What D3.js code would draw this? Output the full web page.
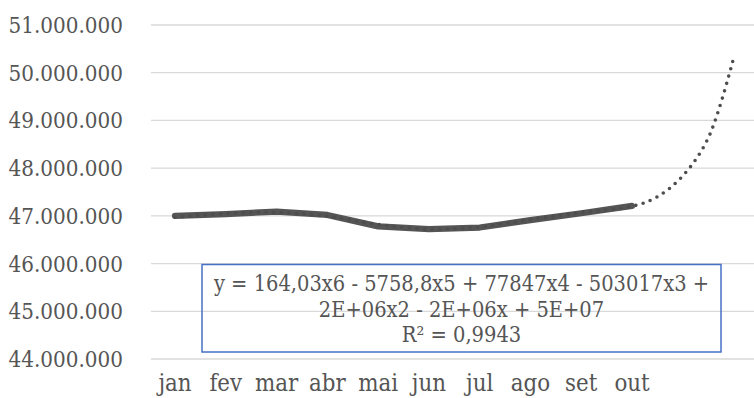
<!DOCTYPE html>
<html>
<head>
<meta charset="utf-8">
<script src="https://cdn.jsdelivr.net/npm/d3@7"></script>
<style>
html,body{margin:0;padding:0;background:#fff;}
svg{display:block;}
text{font-family:"DejaVu Serif","Liberation Serif",serif;fill:#555555;}
</style>
</head>
<body>
<svg id="chart" width="754" height="398"></svg>
<script>
// Data
const categories = ["jan","fev","mar","abr","mai","jun","jul","ago","set","out"];
const values = [47000000, 47035000, 47090000, 47020000, 46780000, 46720000, 46755000, 46910000, 47055000, 47210000];
// Polynomial (order 6) trendline, forecast 2 periods forward
const trendX = [1, 2, 3, 4, 5, 6, 7, 8, 9, 10, 10.5, 11, 11.5, 12];
const trendY = [46970000, 47050000, 47070000, 46990000, 46820000, 46720000, 46770000, 46920000, 47070000, 47200000, 47400000, 47840000, 48630000, 50310000];
const yTicks = [44000000, 45000000, 46000000, 47000000, 48000000, 49000000, 50000000, 51000000];
const equationLines = ["y = 164,03x6 - 5758,8x5 + 77847x4 - 503017x3 +", "2E+06x2 - 2E+06x + 5E+07", "R² = 0,9943"];

const svg = d3.select("#chart");
const x = d3.scaleLinear().domain([0.5, 12.5]).range([149.6, 759]);
const y = d3.scaleLinear().domain([44000000, 51000000]).range([359, 25]);
const fmt = v => d3.format(",")(v).replace(/,/g, ".");
const SY = 1.12; // taller glyphs like the reference typeface

// gridlines
svg.append("g").selectAll("line").data(yTicks).join("line")
  .attr("x1", 151).attr("x2", 754)
  .attr("y1", d => y(d)).attr("y2", d => y(d))
  .attr("stroke", "#d9d9d9").attr("stroke-width", 1.3);

// y labels
svg.append("g").selectAll("text").data(yTicks).join("text")
  .attr("transform", d => `translate(123,${y(d) + 8}) scale(1,${SY})`)
  .attr("text-anchor", "end").attr("font-size", 20)
  .text(fmt);

// x labels
svg.append("g").selectAll("text").data(categories).join("text")
  .attr("transform", (d, i) => `translate(${x(i + 1)},391) scale(1.02,${SY + 0.06})`)
  .attr("text-anchor", "middle").attr("font-size", 21)
  .text(d => d);

// main line
const line = d3.line().x((d, i) => x(i + 1)).y(d => y(d));
svg.append("path").datum(values)
  .attr("d", line)
  .attr("fill", "none").attr("stroke", "#555555")
  .attr("stroke-width", 6.2).attr("stroke-linejoin", "round").attr("stroke-linecap", "round");

// trendline
const tline = d3.line().x(d => x(d[0])).y(d => y(d[1])).curve(d3.curveCatmullRom);
svg.append("path").datum(trendX.map((t, i) => [t, trendY[i]]))
  .attr("d", tline)
  .attr("fill", "none").attr("stroke", "#4d4d4d")
  .attr("stroke-width", 3.6).attr("stroke-linecap", "round")
  .attr("stroke-dasharray", "0 7.6");

// equation box
svg.append("rect").attr("x", 202).attr("y", 264.5).attr("width", 519).attr("height", 87.5)
  .attr("fill", "none").attr("stroke", "#4472c4").attr("stroke-width", 1.5);
svg.append("g").selectAll("text").data(equationLines).join("text")
  .attr("transform", (d, i) => `translate(461.5,${291 + i * 25.5}) scale(1,${SY})`)
  .attr("text-anchor", "middle").attr("font-size", 19.5)
  .text(d => d);
</script>
</body>
</html>
